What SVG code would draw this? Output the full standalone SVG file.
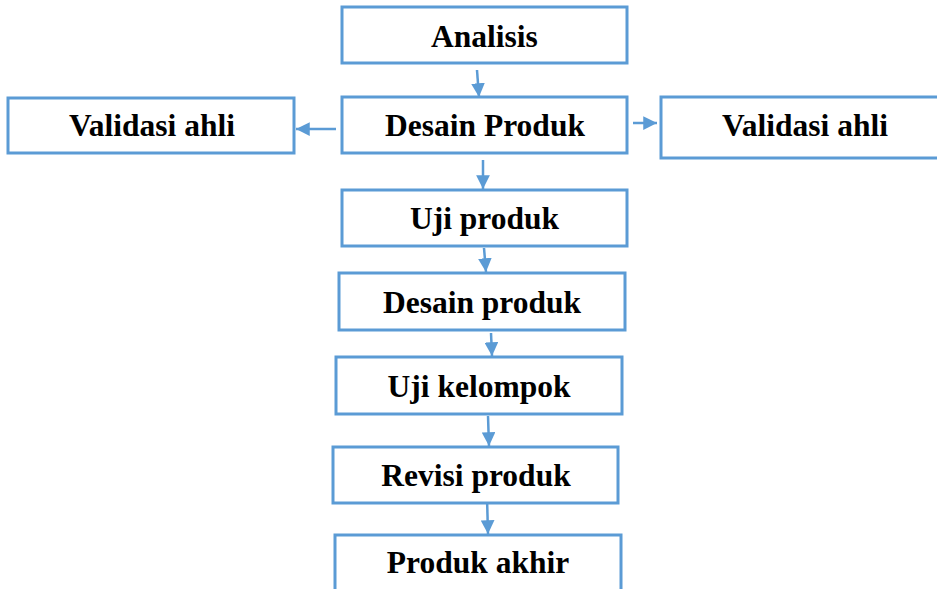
<svg xmlns="http://www.w3.org/2000/svg" width="937" height="589" viewBox="0 0 937 589">
<style>
.box{fill:#fff;stroke:#5B9BD5;stroke-width:3}
.lbl{font-family:"Liberation Serif","Times New Roman",serif;font-weight:bold;font-size:31.5px;fill:#000;text-anchor:middle}
.con{stroke:#5B9BD5;stroke-width:2.5;fill:none;marker-end:url(#ah)}
</style>
<defs>
<marker id="ah" viewBox="0 0 10 10" refX="10" refY="5" markerWidth="5.5" markerHeight="5.5" markerUnits="strokeWidth" orient="auto">
<path d="M0,0 L10,5 L0,10 z" fill="#5B9BD5"/>
</marker>
</defs>
<rect width="937" height="589" fill="#fff"/>
<g id="connectors">
<line class="con" x1="477" y1="70" x2="479" y2="97"/>
<line class="con" x1="336" y1="129" x2="296" y2="129"/>
<line class="con" x1="633" y1="123" x2="657" y2="123"/>
<line class="con" x1="483" y1="160" x2="483" y2="189"/>
<line class="con" x1="484" y1="248" x2="486" y2="272"/>
<line class="con" x1="491" y1="333" x2="492" y2="356"/>
<line class="con" x1="488" y1="416" x2="489" y2="446"/>
<line class="con" x1="487" y1="497" x2="488" y2="534"/>
</g>
<g id="analisis"><rect class="box" x="342" y="7" width="285" height="56"/><text class="lbl" x="484.5" y="47">Analisis</text></g>
<g id="desain-produk-1"><rect class="box" x="342" y="97" width="285" height="56"/><text class="lbl" x="485" y="136">Desain Produk</text></g>
<g id="validasi-kiri"><rect class="box" x="8" y="98" width="286" height="55"/><text class="lbl" x="152" y="136">Validasi ahli</text></g>
<g id="validasi-kanan"><rect class="box" x="661" y="97" width="278" height="61"/><text class="lbl" x="805" y="136">Validasi ahli</text></g>
<g id="uji-produk"><rect class="box" x="342" y="190" width="285" height="56"/><text class="lbl" x="484.5" y="229">Uji produk</text></g>
<g id="desain-produk-2"><rect class="box" x="339" y="273" width="286" height="57"/><text class="lbl" x="482" y="313">Desain produk</text></g>
<g id="uji-kelompok"><rect class="box" x="336" y="357" width="286" height="57"/><text class="lbl" x="479" y="397">Uji kelompok</text></g>
<g id="revisi-produk"><rect class="box" x="333" y="447" width="285" height="56"/><text class="lbl" x="476" y="486">Revisi produk</text></g>
<g id="produk-akhir"><rect class="box" x="335" y="535" width="286" height="70"/><text class="lbl" x="478" y="573">Produk akhir</text></g>
</svg>
